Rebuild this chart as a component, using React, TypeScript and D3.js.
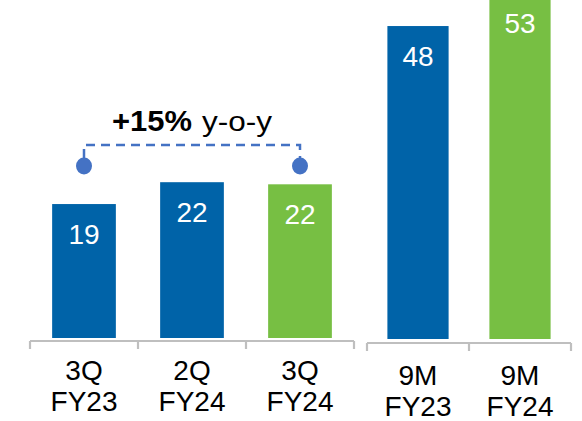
import React from "react";
import * as d3 from "d3";

const quarterCats = ["3Q FY23", "2Q FY24", "3Q FY24"];
const quarterValues = [19.0, 22.1, 21.8];
const quarterLabels = ["19", "22", "22"];
const quarterColors = ["#0063A8", "#0063A8", "#77BF43"];

const ytdCats = ["9M FY23", "9M FY24"];
const ytdValues = [48, 53];
const ytdLabels = ["48", "53"];
const ytdColors = ["#0063A8", "#77BF43"];

const growthLabel = "+15%";
const growthSuffix = "y-o-y";

const FONT = "'Liberation Sans', Arial, Helvetica, sans-serif";

export default function App() {
  const W = 582, H = 421;
  const xL = d3.scaleBand<string>().domain(quarterCats).range([30, 354]).paddingInner(0.41).paddingOuter(0.205);
  const yL = d3.scaleLinear().domain([0, 338 / 7.05]).range([338, 0]);
  const xR = d3.scaleBand<string>().domain(ytdCats).range([367, 571]).paddingInner(0.4).paddingOuter(0.2);
  const yR = d3.scaleLinear().domain([0, 339 / 6.52]).range([339, 0]);

  const axis = (x: d3.ScaleBand<string>, y0: number, key: string) => {
    const [r0, r1] = x.range();
    const step = x.step();
    const ticks: number[] = [r0];
    x.domain().forEach((_, i) => ticks.push(r0 + step * (i + 1)));
    ticks[ticks.length - 1] = r1;
    return (
      <g key={key} stroke="#BFBFBF" strokeWidth={2.2} fill="none">
        <line x1={r0} x2={r1} y1={y0} y2={y0} />
        {ticks.map((t, i) => (
          <line key={i} x1={t} x2={t} y1={y0} y2={y0 + 8} />
        ))}
      </g>
    );
  };

  const catLabel = (c: string, x: number, y1: number, y2: number, key: string) => {
    const [a, b] = c.split(" ");
    return (
      <g key={key} fontFamily={FONT} fontSize={28} fill="#000" textAnchor="middle">
        <text x={x} y={y1}>{a}</text>
        <text x={x} y={y2}>{b}</text>
      </g>
    );
  };

  const c0 = xL(quarterCats[0])! + xL.bandwidth() / 2;
  const c2 = xL(quarterCats[2])! + xL.bandwidth() / 2;
  const lineY = 145;
  const dotY = 166;

  return (
    <svg width={W} height={H} style={{ position: "absolute", left: 0, top: 0, background: "#fff" }}>
      {quarterCats.map((c, i) => (
        <rect key={c} x={xL(c)} y={yL(quarterValues[i])} width={xL.bandwidth()} height={yL(0) - yL(quarterValues[i])} fill={quarterColors[i]} />
      ))}
      {ytdCats.map((c, i) => (
        <rect key={c} x={xR(c)} y={Math.max(0, yR(ytdValues[i]))} width={xR.bandwidth()} height={yR(0) - Math.max(0, yR(ytdValues[i]))} fill={ytdColors[i]} />
      ))}
      <g fontFamily={FONT} fontSize={28} fill="#fff" textAnchor="middle">
        {quarterCats.map((c, i) => (
          <text key={c} x={xL(c)! + xL.bandwidth() / 2} y={yL(quarterValues[i]) + 40}>{quarterLabels[i]}</text>
        ))}
        {ytdCats.map((c, i) => (
          <text key={c} x={xR(c)! + xR.bandwidth() / 2} y={Math.max(yR(ytdValues[i]) + 40, 30)}>{ytdLabels[i]}</text>
        ))}
      </g>
      {axis(xL, 341, "axL")}
      {axis(xR, 343, "axR")}
      {quarterCats.map((c, i) => catLabel(c, xL(c)! + xL.bandwidth() / 2, 380, 411, "l" + i))}
      {ytdCats.map((c, i) => catLabel(c, xR(c)! + xR.bandwidth() / 2, 385, 416, "r" + i))}
      <path d={`M${c0},${dotY - 8} V${lineY} H${c2} V${dotY - 8}`} fill="none" stroke="#4472C4" strokeWidth={2.5} strokeDasharray="9,6" />
      <ellipse cx={c0} cy={dotY} rx={8} ry={8.5} fill="#4472C4" />
      <ellipse cx={c2} cy={dotY} rx={8} ry={8.5} fill="#4472C4" />
      <text x={112} y={131} fontFamily={FONT} fontSize={29} fontWeight="bold" fill="#000" textLength={80} lengthAdjust="spacingAndGlyphs">{growthLabel}</text>
      <text x={202} y={131} fontFamily={FONT} fontSize={28} fill="#000" textLength={70} lengthAdjust="spacingAndGlyphs">{growthSuffix}</text>
    </svg>
  );
}
